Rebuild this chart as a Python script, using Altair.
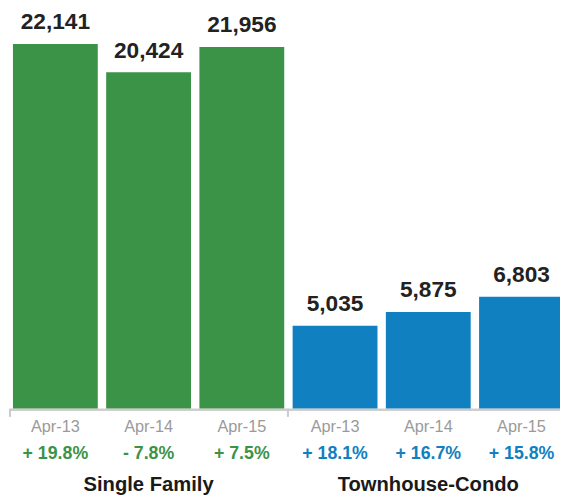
import altair as alt
import pandas as pd

groups = ["Single Family", "Single Family", "Single Family",
          "Townhouse-Condo", "Townhouse-Condo", "Townhouse-Condo"]
dates = ["Apr-13", "Apr-14", "Apr-15", "Apr-13", "Apr-14", "Apr-15"]
values = [22141, 20424, 21956, 5035, 5875, 6803]
pcts = ["+ 19.8%", "- 7.8%", "+ 7.5%", "+ 18.1%", "+ 16.7%", "+ 15.8%"]
group_names = ["Single Family", "Townhouse-Condo"]
group_colors = ["#3b9347", "#1080c1"]

ids = [f"{g}|{d}" for g, d in zip(groups, dates)]
df = pd.DataFrame({"id": ids, "group": groups, "date": dates,
                   "value": values, "pct": pcts,
                   "label": [f"{v:,}" for v in values]})
df_grp = pd.DataFrame({"id": [ids[1], ids[4]], "group": group_names})

FONT = "Liberation Sans"
W, H = 560, 403

x = alt.X("id:N", sort=ids, axis=None,
          scale=alt.Scale(paddingInner=0.09, paddingOuter=0.053, range=[0, 569]))
y = alt.Y("value:Q", axis=None, scale=alt.Scale(domain=[0, 24116], nice=False, zero=True))
color = alt.Color("group:N", legend=None,
                  scale=alt.Scale(domain=group_names, range=group_colors))

base = alt.Chart(df)
bars = base.mark_bar().encode(x=x, y=y, color=color)
vals = base.mark_text(font=FONT, fontSize=23, fontWeight="bold", color="#222222",
                      baseline="alphabetic", dy=-15).encode(x=x, y=y, text="label:N")
date_txt = base.mark_text(font=FONT, fontSize=16.5, color="#9a9a9a",
                          baseline="alphabetic").encode(
    x=x, y=alt.value(427), text="date:N")
pct_txt = base.mark_text(font=FONT, fontSize=18, fontWeight="bold",
                         baseline="alphabetic").encode(
    x=x, y=alt.value(454), text="pct:N", color=color)
grp_txt = alt.Chart(df_grp).mark_text(font=FONT, fontSize=20.5, fontWeight="bold",
                                      color="#1a1a1a", baseline="alphabetic").encode(
    x=x, y=alt.value(486), text="group:N")

axis_line = alt.Chart(df_grp).mark_rule(color="#cccccc", strokeWidth=2).encode(
    x=alt.value(2), x2=alt.value(W), y=alt.value(H + 1))
tick1 = alt.Chart(df_grp).mark_rule(color="#cccccc", strokeWidth=2).encode(
    x=alt.value(2), y=alt.value(H), y2=alt.value(H + 8))
tick2 = alt.Chart(df_grp).mark_rule(color="#cccccc", strokeWidth=2).encode(
    x=alt.value(284), y=alt.value(H), y2=alt.value(H + 8))

chart = alt.layer(bars, vals, axis_line, tick1, tick2, date_txt, pct_txt, grp_txt).properties(
    width=W, height=H,
    autosize=alt.AutoSizeParams(type="none"),
    padding={"left": 0, "top": 0, "right": 0, "bottom": 90},
    background="white",
).configure_view(stroke=None)

chart.save("out.html", embed_options={"renderer": "svg", "actions": False})
